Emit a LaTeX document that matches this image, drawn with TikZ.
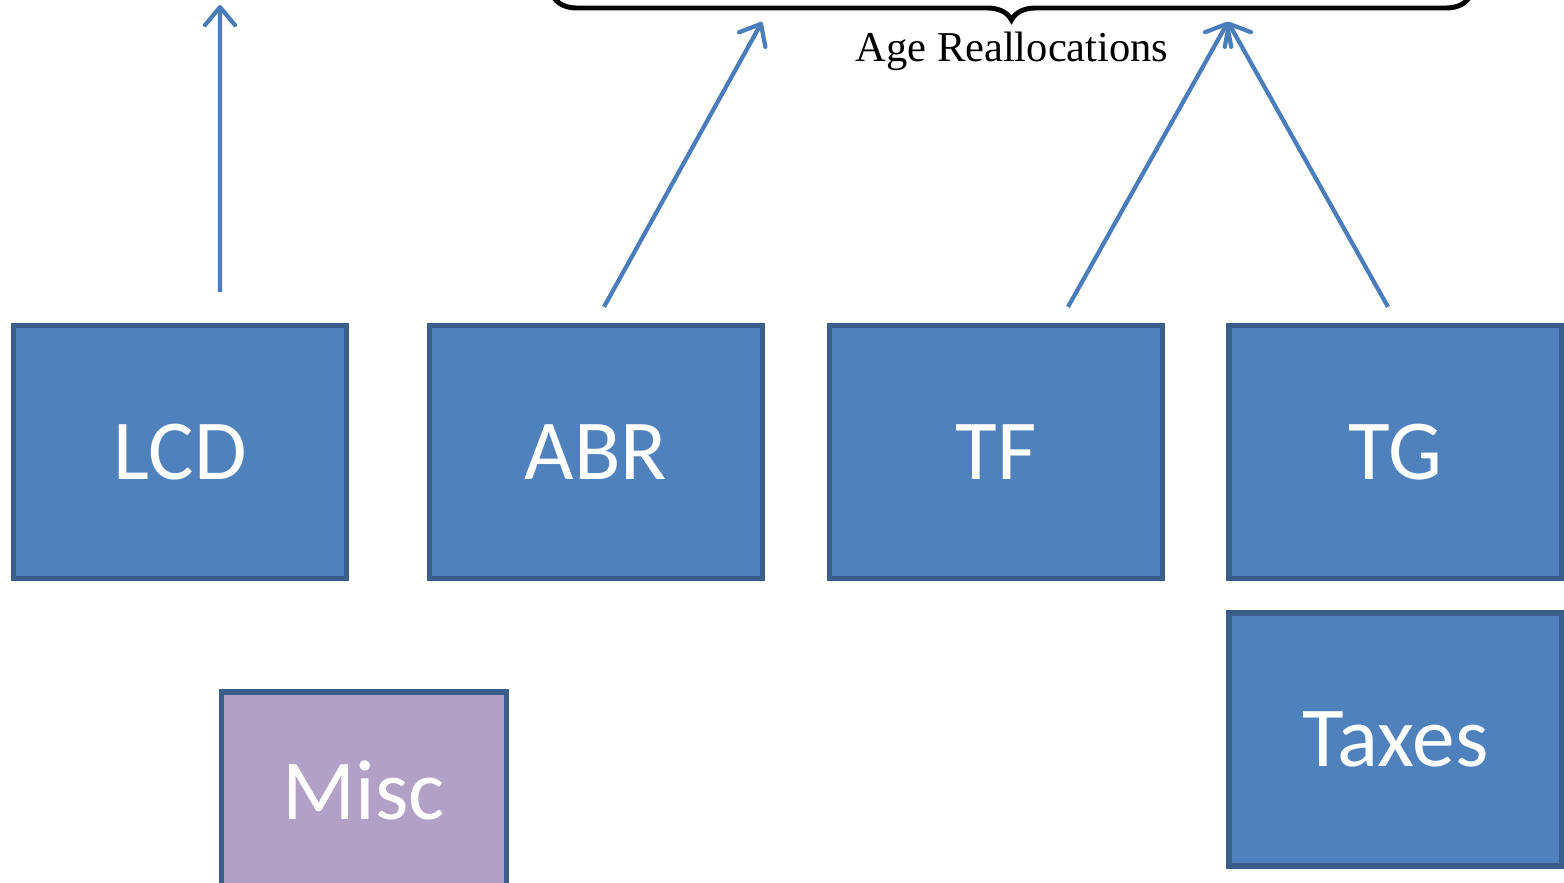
\documentclass[tikz,border=0pt]{standalone}
\usepackage{fontspec}
\setmainfont{Carlito}
\newfontfamily\serifage{Liberation Serif}
\usepackage{tikz}
\usetikzlibrary{arrows.meta,decorations.pathreplacing}

\definecolor{boxblue}{HTML}{4F81BD}
\definecolor{boxedge}{HTML}{3A5E8C}
\definecolor{boxlilac}{HTML}{B2A1C7}
\definecolor{arrblue}{HTML}{4A7EBB}

\begin{document}
\begin{tikzpicture}[
  sector/.style={draw=boxedge,fill=boxblue,line width=1.5pt,minimum width=3.33cm,minimum height=2.53cm,
    text=white,font=\fontsize{24.3}{29}\selectfont},
  flowarr/.style={draw=arrblue,line width=1.2pt,-{Straight Barb[length=1.8mm,width=3mm,round]}}
]
\useasboundingbox (0,0) rectangle (15.64,8.82);

% boxes
\node[sector] (lcd) at (1.80,4.30) {LCD};
\node[sector] (abr) at (5.96,4.30) {ABR};
\node[sector] (tf) at (9.96,4.30) {TF};
\node[sector] (tg) at (13.955,4.30) {TG};
\node[sector] (taxes) at (13.955,1.425) {Taxes};
\node[sector,fill=boxlilac,minimum width=2.85cm,minimum height=1.96cm] (misc) at (3.64,0.92) {Misc};

% brace
\coordinate (braceL) at (5.53,8.86);
\coordinate (braceR) at (14.70,8.86);
\draw[line width=1.4pt,decorate,decoration={brace,mirror,amplitude=0.24cm}] (braceL) -- (braceR);
\node[font=\serifage\fontsize{12.1}{14}\selectfont] (agere) at (10.12,8.31) {Age Reallocations};

% arrows
\coordinate (tipL) at (2.20,8.77);
\coordinate (tipA) at (7.62,8.60);
\coordinate (tipT) at (12.28,8.60);
\draw[flowarr] ([xshift=0.40cm,yshift=0.31cm]lcd.north) -- (tipL);
\draw[flowarr] ([xshift=0.08cm,yshift=0.16cm]abr.north) -- (tipA);
\draw[flowarr] ([xshift=0.72cm,yshift=0.16cm]tf.north) -- (tipT);
\draw[flowarr] ([xshift=-0.075cm,yshift=0.16cm]tg.north) -- (tipT);

\end{tikzpicture}
\end{document}
